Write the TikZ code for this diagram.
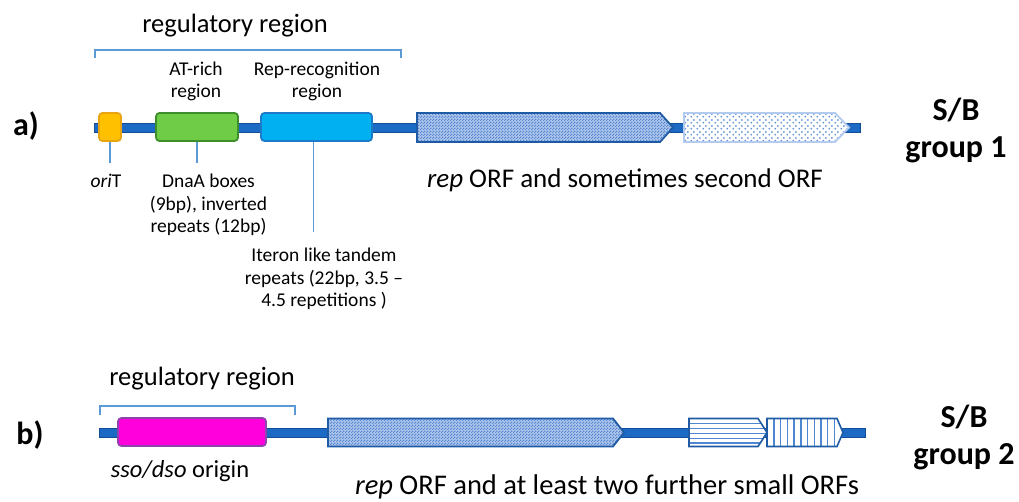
\documentclass[tikz,border=0pt]{standalone}
\usepackage{fontspec}
\setmainfont{Carlito}
\usetikzlibrary{patterns,patterns.meta}
\definecolor{dnafill}{HTML}{1D6AC4}
\definecolor{dnaedge}{HTML}{124E98}
\definecolor{tickc}{HTML}{5B9BD5}
\definecolor{orfill}{HTML}{FFC000}
\definecolor{oredge}{HTML}{E9A413}
\definecolor{grfill}{HTML}{6FCC46}
\definecolor{gredge}{HTML}{3E8E2C}
\definecolor{cyfill}{HTML}{00B0F0}
\definecolor{cyedge}{HTML}{1C7ACB}
\definecolor{mgfill}{HTML}{FF00DD}
\definecolor{mgedge}{HTML}{8E44AD}
\definecolor{orffill}{HTML}{B0C7EC}
\definecolor{orfpat}{HTML}{5587D3}
\definecolor{orfedge}{HTML}{1F5BA5}
\definecolor{lightedge}{HTML}{B3CBEE}
\definecolor{dotc}{HTML}{5E8FD8}
\definecolor{stripec}{HTML}{4F86D2}
\pgfdeclarepattern{name=checker, type=uncolored,
  bottom left={\pgfpoint{0pt}{0pt}}, top right={\pgfpoint{3pt}{3pt}},
  tile size={\pgfpoint{3pt}{3pt}},
  code={\pgfpathrectangle{\pgfpoint{0pt}{0pt}}{\pgfpoint{1.5pt}{1.5pt}}
        \pgfpathrectangle{\pgfpoint{1.5pt}{1.5pt}}{\pgfpoint{1.5pt}{1.5pt}}
        \pgfusepath{fill}}}
\pgfdeclarepattern{name=sparsedots, type=uncolored,
  bottom left={\pgfpoint{0pt}{0pt}}, top right={\pgfpoint{6pt}{6pt}},
  tile size={\pgfpoint{6pt}{6pt}},
  code={\pgfpathcircle{\pgfpoint{1.5pt}{1.5pt}}{1.1pt}
        \pgfpathcircle{\pgfpoint{4.5pt}{4.5pt}}{1.1pt}
        \pgfusepath{fill}}}
\begin{document}
\begin{tikzpicture}[x=1pt,y=-1pt,
  dnal/.style={draw=dnaedge, fill=dnafill, line width=0.8pt},
  regbox/.style={rectangle, rounded corners=3.5pt, line width=1.8pt, inner sep=0pt, minimum height=28pt},
  tick/.style={draw=tickc, line width=1.3pt},
  bigtxt/.style={font=\fontsize{26.5}{31}\selectfont, inner sep=0pt, anchor=base},
  smalltxt/.style={font=\fontsize{19.5}{22.5}\selectfont, inner sep=0pt, anchor=base, align=center},
  grplbl/.style={font=\fontsize{32}{37}\selectfont\bfseries, inner sep=0pt, anchor=base, align=center},
  orfdark/.style={draw=orfedge, line width=1.8pt, preaction={fill=orffill}, pattern=checker, pattern color=orfpat},
  orflight/.style={draw=lightedge, line width=1.8pt, preaction={fill=white}, pattern=sparsedots, pattern color=dotc},
  orfstripe/.style={draw=orfedge, line width=1.6pt},
  stripe/.style={draw=stripec, line width=1.4pt}
]
\useasboundingbox (0,0) rectangle (1019,502);

% ---------------- a) ----------------
\node[grplbl] (la) at (26,136) {a)};
\node[grplbl] (ga) at (956,158) {S/B\\group 1};

\draw[tick] (95,58) -- (95,50) -- (401,50) -- (401,58);
\node[bigtxt] (rega) at (235,33) {regulatory region};

\node[smalltxt] (atl) at (196,98) {AT-rich\\region};
\node[smalltxt] (rrl) at (317,98) {Rep-recognition\\region};

\draw[dnal] (94,123) rectangle (860,132);

\node[regbox, draw=oredge, fill=orfill, minimum width=22pt] (orit) at (110,127) {};
\node[regbox, draw=gredge, fill=grfill, minimum width=82pt] (atbox) at (197,127) {};
\node[regbox, draw=cyedge, fill=cyfill, minimum width=111pt] (repbox) at (316.5,127) {};

\path[orfdark] (417,113) -- (660,113) -- (673,127.5) -- (660,142) -- (417,142) -- cycle;
\path[orflight] (684,113) -- (835,113) -- (849,127.5) -- (835,142) -- (684,142) -- cycle;

\coordinate (oritend) at (110,163);
\coordinate (atend) at (197,163);
\coordinate (repend) at (313.5,232);
\draw[tick] (orit.south) -- (oritend);
\draw[tick] (atbox.south) -- (atend);
\draw[tick] ([xshift=-3pt]repbox.south) -- (repend);

\node[smalltxt] (oritl) at (106,188) {\textit{ori}T};
\node[smalltxt] (dnaal) at (208.5,233) {DnaA boxes\\(9bp), inverted\\repeats (12bp)};
\node[smalltxt] (iterl) at (324,307) {Iteron like tandem\\repeats (22bp, 3.5 –\\4.5 repetitions )};
\node[bigtxt, font=\fontsize{27}{32}\selectfont] (orfa) at (625,188) {\textit{rep} ORF and sometimes second ORF};

% ---------------- b) ----------------
\node[grplbl] (lb) at (30,444) {b)};
\node[grplbl] (gb) at (964,464) {S/B\\group 2};

\draw[tick] (100,415) -- (100,406) -- (295,406) -- (295,415);
\node[bigtxt] (regb) at (202,385) {regulatory region};

\draw[dnal] (99,428) rectangle (865,437);

\node[regbox, draw=mgedge, fill=mgfill, minimum width=148pt] (ssobox) at (192,432) {};
\node[bigtxt, font=\fontsize{24.5}{29}\selectfont] (ssol) at (180,477) {\textit{sso/dso} origin};

\path[orfdark] (328,418.5) -- (613,418.5) -- (624,432.5) -- (613,446.5) -- (328,446.5) -- cycle;

\begin{scope}
  \clip (689,418.5) -- (758,418.5) -- (767,432.5) -- (758,446.5) -- (689,446.5) -- cycle;
  \fill[white] (689,418) rectangle (768,447);
  \foreach \yy in {423.5,428.5,433.5,438.5,443} \draw[stripe] (689,\yy) -- (768,\yy);
\end{scope}
\draw[orfstripe] (689,418.5) -- (758,418.5) -- (767,432.5) -- (758,446.5) -- (689,446.5) -- cycle;

\begin{scope}
  \clip (767,418.5) -- (837,418.5) -- (843,432.5) -- (837,446.5) -- (767,446.5) -- cycle;
  \fill[white] (767,418) rectangle (844,447);
  \foreach \xx in {774,780.7,787.4,794.1,800.8,807.5,814.2,820.9,827.6,834.3} \draw[stripe] (\xx,418) -- (\xx,447);
\end{scope}
\draw[orfstripe] (767,418.5) -- (837,418.5) -- (843,432.5) -- (837,446.5) -- (767,446.5) -- cycle;

\node[bigtxt, font=\fontsize{28.5}{33}\selectfont] (orfb) at (607,494) {\textit{rep} ORF and at least two further small ORFs};
\end{tikzpicture}
\end{document}
